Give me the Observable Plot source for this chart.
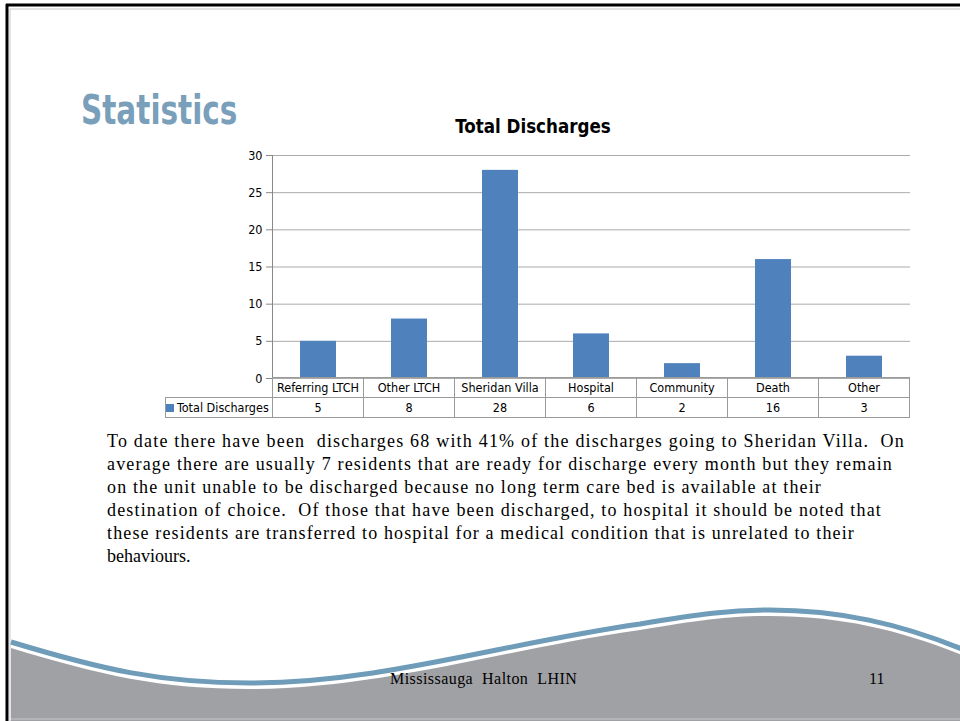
<!DOCTYPE html>
<html>
<head>
<meta charset="utf-8">
<script src="https://cdn.jsdelivr.net/npm/d3@7"></script>
<script src="https://cdn.jsdelivr.net/npm/@observablehq/plot@0.6"></script>
<style>
  html, body { margin: 0; padding: 0; background: #fff; }
  #page { position: relative; width: 960px; height: 721px; overflow: hidden; background: #fff; }
  .abs { position: absolute; white-space: nowrap; }
  #heading { left: 81px; top: 87px; font-family: "Liberation Sans Narrow", "DejaVu Sans Condensed", sans-serif; font-weight: bold; font-size: 40px; color: #7a9fba; transform: scaleX(0.82); transform-origin: left top; }
  #ctitle { left: 0; width: 1066px; text-align: center; top: 114px; font-family: "Liberation Sans Narrow", "DejaVu Sans Condensed", sans-serif; font-weight: bold; font-size: 20px; color: #000; transform: scaleX(0.93); transform-origin: 533px 0; }
  #body { left: 107px; top: 430px; font-family: "Liberation Serif", "Times New Roman", serif; font-size: 18px; line-height: 23px; color: #000; }
  #body div { white-space: nowrap; }
  #foot1 { left: 390px; top: 670px; font-family: "Liberation Serif", serif; font-size: 16px; letter-spacing: 0.45px; color: #000; }
  #foot2 { left: 869px; top: 670px; font-family: "Liberation Serif", serif; font-size: 16px; color: #000; }
  #chart { position: absolute; left: 160px; top: 140px; }
  table.dt { position: absolute; border-collapse: collapse; font-family: "Liberation Sans Narrow", "DejaVu Sans Condensed", sans-serif; font-size: 12.5px; color: #000; table-layout: fixed; }
  table.dt td { border: 1px solid #9a9a9a; height: 19px; padding: 0; text-align: center; overflow: hidden; white-space: nowrap; }
  table.dt td.blank { border: none; border-right: 1px solid #9a9a9a; }
  .key { display: inline-block; width: 8px; height: 8px; background: #4f81bd; margin-right: 3px; }
</style>
</head>
<body>
<div id="page">
  <svg id="frame" width="960" height="721" style="position:absolute;left:0;top:0">
    <rect x="10" y="9" width="960" height="712" fill="none" stroke="#c8c8c8" stroke-width="1"/>
    <path d="M11,648 C100,675 160,689 250,689 C380,689 500,650 640,630 C700,620 730,616 770,616 C840,616 900,630 962,655 L962,721 L11,721 Z" fill="#a0a1a5"/>
    <path d="M11,645.5 C100,672.5 160,686.5 250,686.5 C380,686.5 500,647.5 640,627.5 C700,617.5 730,613.5 770,613.5 C840,613.5 900,627.5 962,652.5" fill="none" stroke="#ffffff" stroke-width="2"/>
    <path d="M11,642 C100,669 160,683 250,683 C380,683 500,644 640,624 C700,614 730,610 770,610 C840,610 900,624 962,649" fill="none" stroke="#6f9cb8" stroke-width="5"/>
    <line x1="11" y1="719" x2="960" y2="719" stroke="#c8c8c8" stroke-width="1"/>
    <line x1="7" y1="4" x2="7" y2="721" stroke="#000" stroke-width="3"/>
    <line x1="6" y1="5" x2="960" y2="5" stroke="#000" stroke-width="3"/>
  </svg>
  <div id="heading" class="abs">Statistics</div>
  <div id="ctitle" class="abs">Total Discharges</div>
  <div id="chart"></div>
  <div id="body" class="abs"></div>
  <div id="foot1" class="abs">Mississauga&nbsp; Halton&nbsp; LHIN</div>
  <div id="foot2" class="abs">11</div>
</div>
<script>
const categories = ["Referring LTCH", "Other LTCH", "Sheridan Villa", "Hospital", "Community", "Death", "Other"];
const discharges = [5, 8, 28, 6, 2, 16, 3];
const seriesName = "Total Discharges";
const yTicks = [0, 5, 10, 15, 20, 25, 30];
const bodyLines = [
  "To date there have been\u00a0 discharges 68 with 41% of the discharges going to Sheridan Villa.\u00a0 On",
  "average there are usually 7 residents that are ready for discharge every month but they remain",
  "on the unit unable to be discharged because no long term care bed is available at their",
  "destination of choice.\u00a0 Of those that have been discharged, to hospital it should be noted that",
  "these residents are transferred to hospital for a medical condition that is unrelated to their",
  "behaviours."
];
// layout only: right edge (px) of each body line in the slide
const lineRightEdges = [905, 893, 822, 882, 855, 188];

const data = categories.map((c, i) => ({category: c, value: discharges[i]}));

const W = 760, mL = 112, mR = 10, mT = 15, H = 238;
const axisLine = (index, scales, values, dims) => {
  const l = document.createElementNS("http://www.w3.org/2000/svg", "line");
  const x = dims.marginLeft + 0.5;
  l.setAttribute("x1", x); l.setAttribute("x2", x);
  l.setAttribute("y1", scales.y(30)); l.setAttribute("y2", scales.y(0));
  l.setAttribute("stroke", "#888");
  return l;
};
const chart = Plot.plot({
  width: W,
  height: H,
  marginLeft: mL,
  marginRight: mR,
  marginTop: mT,
  marginBottom: 0,
  style: {fontFamily: "'Liberation Sans Narrow', 'DejaVu Sans Condensed', sans-serif", fontSize: "12.5px", color: "#000", background: "transparent", overflow: "visible"},
  x: {domain: categories, paddingInner: 0.6, paddingOuter: 0.3, axis: null},
  y: {domain: [0, 30], ticks: yTicks, label: null, tickSize: 6, tickPadding: 4},
  marks: [
    Plot.gridY(yTicks, {stroke: "#ababab", strokeOpacity: 1}),
    Plot.barY(data, {x: "category", y: "value", fill: "#4f81bd"}),
    axisLine,
    Plot.axisY({ticks: yTicks, tickSize: 6, stroke: "#888", tickPadding: 4, label: null})
  ]
});
document.getElementById("chart").appendChild(chart);

// data table under the chart, columns aligned with the band scale
const xs = chart.scale("x");
const step = xs.step;
const tbl = document.createElement("table");
tbl.className = "dt";
const legendW = 107;
tbl.style.left = (160 + mL - legendW) + "px";
tbl.style.top = (140 + H - 1) + "px";
const cg = document.createElement("colgroup");
[legendW, ...categories.map(() => step)].forEach(w => { const c = document.createElement("col"); c.style.width = w + "px"; cg.appendChild(c); });
tbl.appendChild(cg);
tbl.style.width = (legendW + step * categories.length) + "px";
const r1 = tbl.insertRow();
const b = r1.insertCell(); b.className = "blank";
categories.forEach(c => { r1.insertCell().textContent = c; });
const r2 = tbl.insertRow();
const lc = r2.insertCell(); lc.style.textAlign = "left";
lc.innerHTML = '<span class="key"></span>' + seriesName;
discharges.forEach(v => { r2.insertCell().textContent = v; });
document.getElementById("page").appendChild(tbl);

// body text: each line spread to its width like the original
const body = document.getElementById("body");
bodyLines.forEach((t, i) => {
  const d = document.createElement("div");
  const s = document.createElement("span");
  s.textContent = t;
  d.appendChild(s);
  body.appendChild(d);
  const natural = s.getBoundingClientRect().width;
  const target = lineRightEdges[i] - 107;
  const ls = Math.max(0, (target - natural) / t.length);
  s.style.letterSpacing = ls + "px";
});
</script>
</body>
</html>
